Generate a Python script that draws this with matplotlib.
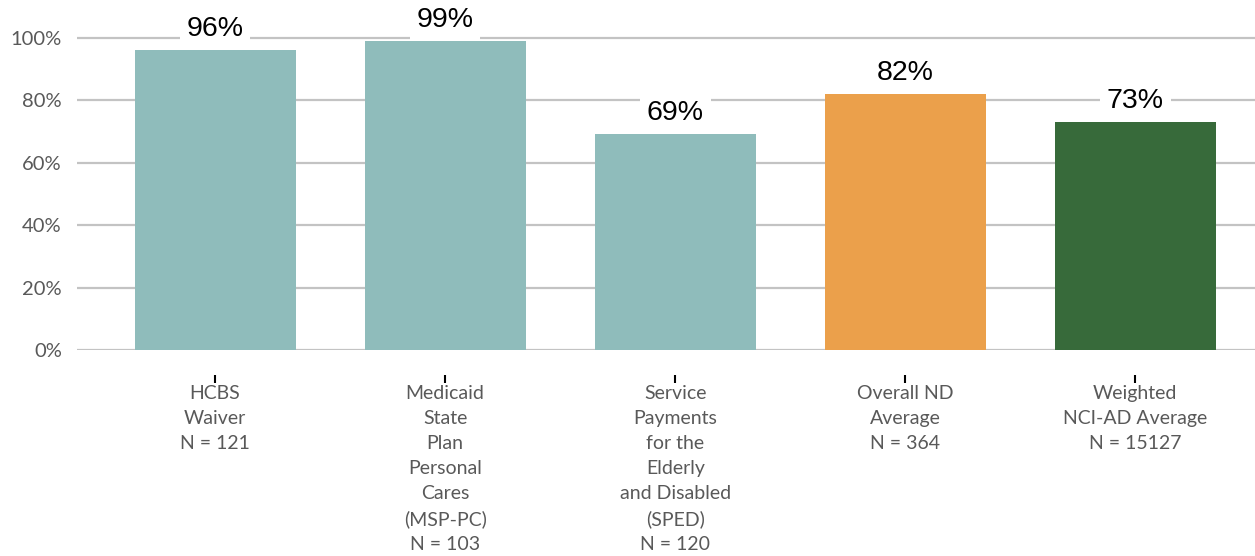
import matplotlib.pyplot as plt

categories = ['HCBS\nWaiver\nN = 121',
              'Medicaid\nState\nPlan\nPersonal\nCares\n(MSP-PC)\nN = 103',
              'Service\nPayments\nfor the\nElderly\nand Disabled\n(SPED)\nN = 120',
              'Overall ND\nAverage\nN = 364',
              'Weighted\nNCI-AD Average\nN = 15127']
values = [0.96, 0.99, 0.69, 0.82, 0.73]
colors = ['#8FBCBB', '#8FBCBB', '#8FBCBB', '#EBA04B', '#376A3A']
yticks = [0, 0.2, 0.4, 0.6, 0.8, 1.0]

fig = plt.figure(figsize=(12.55, 5.56), dpi=100)
ax = fig.add_axes([0.0614, 0.3705, 0.9386, 0.6295])
# move the x axis down first, this resets the tick objects
ax.spines['bottom'].set_position(('outward', 18))
for s in ['top', 'right', 'left', 'bottom']:
    ax.spines[s].set_visible(False)

x = range(len(values))
ax.bar(x, values, width=0.7, color=colors, zorder=2)
for xi, v in zip(x, values):
    ax.text(xi, v + 0.067, '%d%%' % round(v * 100), ha='center', va='center',
            fontsize=20.5, family='Liberation Sans', color='black', zorder=3,
            bbox=dict(facecolor='white', edgecolor='none', pad=5))

ax.set_xlim(-0.6, 4.52)
ax.set_ylim(0, 1.12)
ax.set_yticks(yticks)
ax.set_yticklabels(['%d%%' % round(t * 100) for t in yticks],
                   fontsize=14.5, family='Lato', color='#595959')
ax.yaxis.grid(True, color='#C3C3C3', linewidth=1.6, zorder=0)
ax.set_axisbelow(True)
ax.tick_params(axis='y', length=0, pad=11)

ax.set_xticks(list(x))
ax.set_xticklabels(categories, fontsize=14, family='Lato', color='#595959',
                   linespacing=1.57)
ax.tick_params(axis='x', length=6, width=1.5, color='black', pad=1)

fig.savefig('out.png', dpi=100)
